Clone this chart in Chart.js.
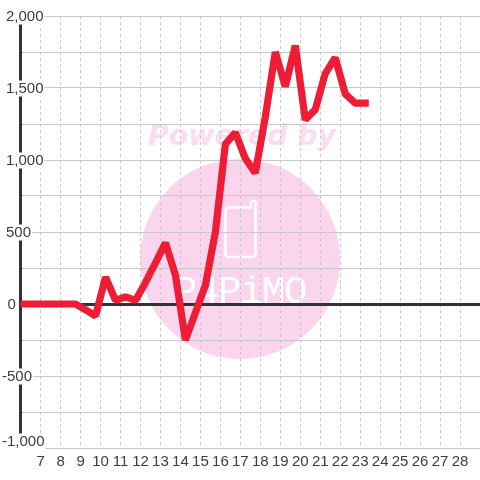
<!DOCTYPE html>
<html>
<head>
<meta charset="utf-8">
<style>html,body{margin:0;padding:0;background:#fff}#w{width:480px;height:480px;position:relative}</style>
<script src="https://cdn.jsdelivr.net/npm/chart.js@4/dist/chart.umd.js"></script>
</head>
<body>
<div id="w"><canvas id="c" width="480" height="480"></canvas></div>
<script>
const xValues = [5.75,6.25,6.75,7.25,7.75,8.25,8.75,9.25,9.75,10.25,10.75,11.25,11.75,12.25,12.75,13.25,13.75,14.25,14.75,15.25,15.75,16.25,16.75,17.25,17.75,18.25,18.75,19.25,19.75,20.25,20.75,21.25,21.75,22.25,22.75,23.25];
const yValues = [0,0,0,0,0,0,0,-40,-83,187,25,50,25,150,285,425,200,-250,-60,130,500,1110,1190,1010,910,1300,1750,1510,1795,1280,1350,1600,1710,1460,1395,1395];
const xTickLabels = [7,8,9,10,11,12,13,14,15,16,17,18,19,20,21,22,23,24,25,26,27,28];
const yTickLabels = [-1000,-500,0,500,1000,1500,2000];

const fmt = v => Math.abs(v) >= 1000 ? v.toLocaleString('en-US') : String(v);

function measureBackdrop(g, it) {
  g.save(); g.font = '15px "Liberation Sans"';
  const w = g.measureText(it.label).width; g.restore();
  it.options.backdrop = { left: -2, top: -8, width: w + 3, height: 16, color: '#fff' };
}

const watermark = {
  id: 'watermark',
  beforeDraw(chart) {
    const g = chart.ctx;
    g.save();
    g.fillStyle = '#fff';
    g.fillRect(0, 0, 480, 480);
    g.fillStyle = '#fbd5ee';
    g.beginPath(); g.arc(240, 259, 100, 0, Math.PI * 2); g.fill();
    g.fillStyle = '#fcdcf1';
    g.font = 'italic bold 28.4px "DejaVu Sans"';
    g.textAlign = 'center'; g.textBaseline = 'alphabetic';
    g.fillText('Powered by', 242, 145);
    g.strokeStyle = '#fff'; g.lineWidth = 2.5; g.lineJoin = 'round';
    g.beginPath();
    g.moveTo(251, 207); g.lineTo(251, 203);
    g.arcTo(251, 201, 253, 201, 2); g.arcTo(255.5, 201, 255.5, 203, 2);
    g.lineTo(255.5, 254); g.arcTo(255.5, 257, 252, 257, 3);
    g.lineTo(229, 257); g.arcTo(225.5, 257, 225.5, 254, 3);
    g.lineTo(225.5, 211); g.arcTo(225.5, 207.5, 229, 207.5, 3);
    g.lineTo(251, 207.5);
    g.stroke();
    g.fillStyle = '#fff';
    g.font = '39px "Liberation Mono"';
    g.textAlign = 'left';
    if ('letterSpacing' in g) g.letterSpacing = '-1.4px';
    g.fillText('P4PiMO', 174, 303);
    g.restore();
  }
};

const labelPlacer = {
  id: 'labelPlacer',
  beforeDraw(chart) {
    chart.scales.y.getLabelItems(chart.chartArea).forEach(it => {
      if (!it.label) { it.options.backdrop = null; return; }
      const neg = String(it.label).startsWith('-');
      const x = neg ? 2 : (it.label === '0' ? 7.5 : 6);
      const y = it.label === '-1,000' ? 441.5 : it.options.translation[1] + 0.5;
      it.options.translation = [x, y];
      it.options.textAlign = 'left';
      it.options.textBaseline = 'middle';
      measureBackdrop(chart.ctx, it);
    });
  }
};

new Chart(document.getElementById('c'), {
  type: 'line',
  data: {
    datasets: [{
      data: xValues.map((x, i) => ({ x, y: yValues[i] })),
      borderColor: '#ee1c34',
      borderWidth: 7.2,
      borderJoinStyle: 'bevel',
      borderCapStyle: 'square',
      pointRadius: 0,
      tension: 0,
      fill: false
    }]
  },
  options: {
    responsive: false,
    animation: false,
    events: [],
    devicePixelRatio: 1,
    layout: { padding: { top: 16, left: 0, right: 0, bottom: 0 } },
    plugins: { legend: { display: false }, tooltip: { enabled: false }, title: { display: false } },
    scales: {
      x: {
        type: 'linear', min: 6, max: 29,
        afterFit(s) { s.height = 32; s.paddingLeft = 0; s.paddingRight = 0; },
        afterBuildTicks(s) { s.ticks = [6].concat(xTickLabels, [29]).map(value => ({ value })); },
        grid: {
          drawTicks: false,
          lineWidth: 1,
          color: c => (c.tick && c.tick.value >= 7 && c.tick.value <= 28) ? '#c8c8c8' : 'rgba(0,0,0,0)'
        },
        border: { display: false, dash: [3, 3] },
        ticks: {
          autoSkip: false, maxRotation: 0, padding: 5, color: '#3c3c3c',
          font: { family: '"Liberation Sans"', size: 15 },
          callback: v => xTickLabels.includes(v) ? String(v) : ''
        }
      },
      y: {
        type: 'linear', min: -1000, max: 2000,
        afterFit(s) { s.width = 20.67; s.paddingTop = 0; s.paddingBottom = 0; },
        afterBuildTicks(s) {
          const t = [];
          yTickLabels.forEach((v, i) => { t.push({ value: v }); if (i < yTickLabels.length - 1) t.push({ value: (v + yTickLabels[i + 1]) / 2 }); });
          s.ticks = t;
        },
        grid: {
          drawTicks: false,
          color: c => c.tick && c.tick.value === 0 ? '#333' : '#c8c8c8',
          lineWidth: c => c.tick && c.tick.value === 0 ? 3 : 1
        },
        border: { display: true, color: '#333', width: 3 },
        ticks: {
          mirror: true, autoSkip: false, padding: 0, color: '#3c3c3c',
          showLabelBackdrop: true, backdropColor: '#fff',
          font: { family: '"Liberation Sans"', size: 15 },
          callback: v => yTickLabels.includes(v) ? fmt(v) : ''
        }
      }
    }
  },
  plugins: [watermark, labelPlacer]
});
</script>
</body>
</html>
